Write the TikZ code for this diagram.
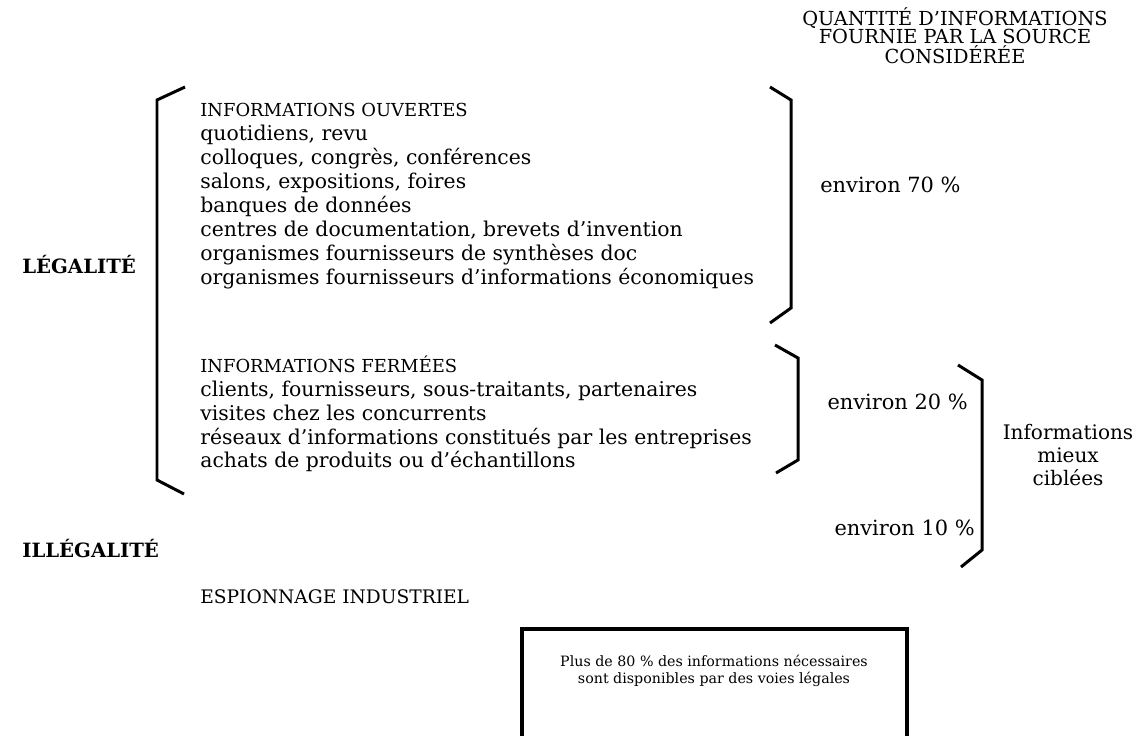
\documentclass[tikz,border=0pt]{standalone}
\usepackage{fontspec}
\setmainfont{DejaVu Serif}
\usetikzlibrary{positioning}

\newcommand{\capsline}[1]{{\fontsize{10.2}{13.6}\selectfont #1}}

\begin{document}
\begin{tikzpicture}[x=0.02cm,y=-0.02cm,
    liste/.style={anchor=west,align=left,inner sep=0pt,font=\fontsize{11.6}{13.6}\selectfont},
    titre/.style={anchor=west,inner sep=0pt,font=\fontsize{11.2}{12}\selectfont\bfseries},
    taux/.style={inner sep=0pt,font=\fontsize{11.9}{13.6}\selectfont},
    crochet/.style={line width=1.7pt}]
    \useasboundingbox (0,0) rectangle (1138,736);
    \clip (0,0) rectangle (1138,736);

    \node[align=center,inner sep=0pt,font=\fontsize{11}{10.1}\selectfont] (Q) at (955,36) {QUANTITÉ D'INFORMATIONS\\FOURNIE PAR LA SOURCE\\CONSIDÉRÉE};

    \node[titre] (L) at (22,265) {LÉGALITÉ};
    \node[titre] (I) at (22,549) {ILLÉGALITÉ};

    \node[liste] (O) at (200,196) {\capsline{INFORMATIONS OUVERTES}\\quotidiens, revu\\colloques, congrès, conférences\\salons, expositions, foires\\banques de données\\centres de documentation, brevets d’invention\\organismes fournisseurs de synthèses doc\\organismes fournisseurs d’informations économiques};
    \node[liste] (F) at (200,414) {\capsline{INFORMATIONS FERMÉES}\\clients, fournisseurs, sous-traitants, partenaires\\visites chez les concurrents\\réseaux d’informations constitués par les entreprises\\achats de produits ou d’échantillons};
    \node[liste,font=\fontsize{10.6}{13.6}\selectfont] (E) at (200,597) {ESPIONNAGE INDUSTRIEL};

    \node[taux,anchor=west] (T70) at (820,185) {environ 70 \%};
    \node[taux,anchor=east] (T20) at (968,402) {environ 20 \%};
    \node[taux,anchor=east] (T10) at (975,528) {environ 10 \%};
    \node[align=center,inner sep=0pt,font=\fontsize{11.4}{13}\selectfont] (C) at (1068,455) {Informations\\mieux\\ciblées};

    % crochets
    \draw[crochet] (185,87) -- (157,100) -- (157,480) -- (184,494);
    \draw[crochet] (770,87) -- (791,100) -- (791,308) -- (770,323);
    \draw[crochet] (775,345) -- (798,358) -- (798,460) -- (776,473);
    \draw[crochet] (958,365) -- (982,380) -- (982,550) -- (961,567);

    \node[draw,line width=2pt,minimum width=7.7cm,minimum height=3.22cm] (cadre) at (714.5,709.5) {};
    \node[align=center,inner sep=0pt,font=\fontsize{8.1}{9.3}\selectfont] (P) at (714,671) {Plus de 80 \% des informations nécessaires\\sont disponibles par des voies légales};
\end{tikzpicture}
\end{document}
